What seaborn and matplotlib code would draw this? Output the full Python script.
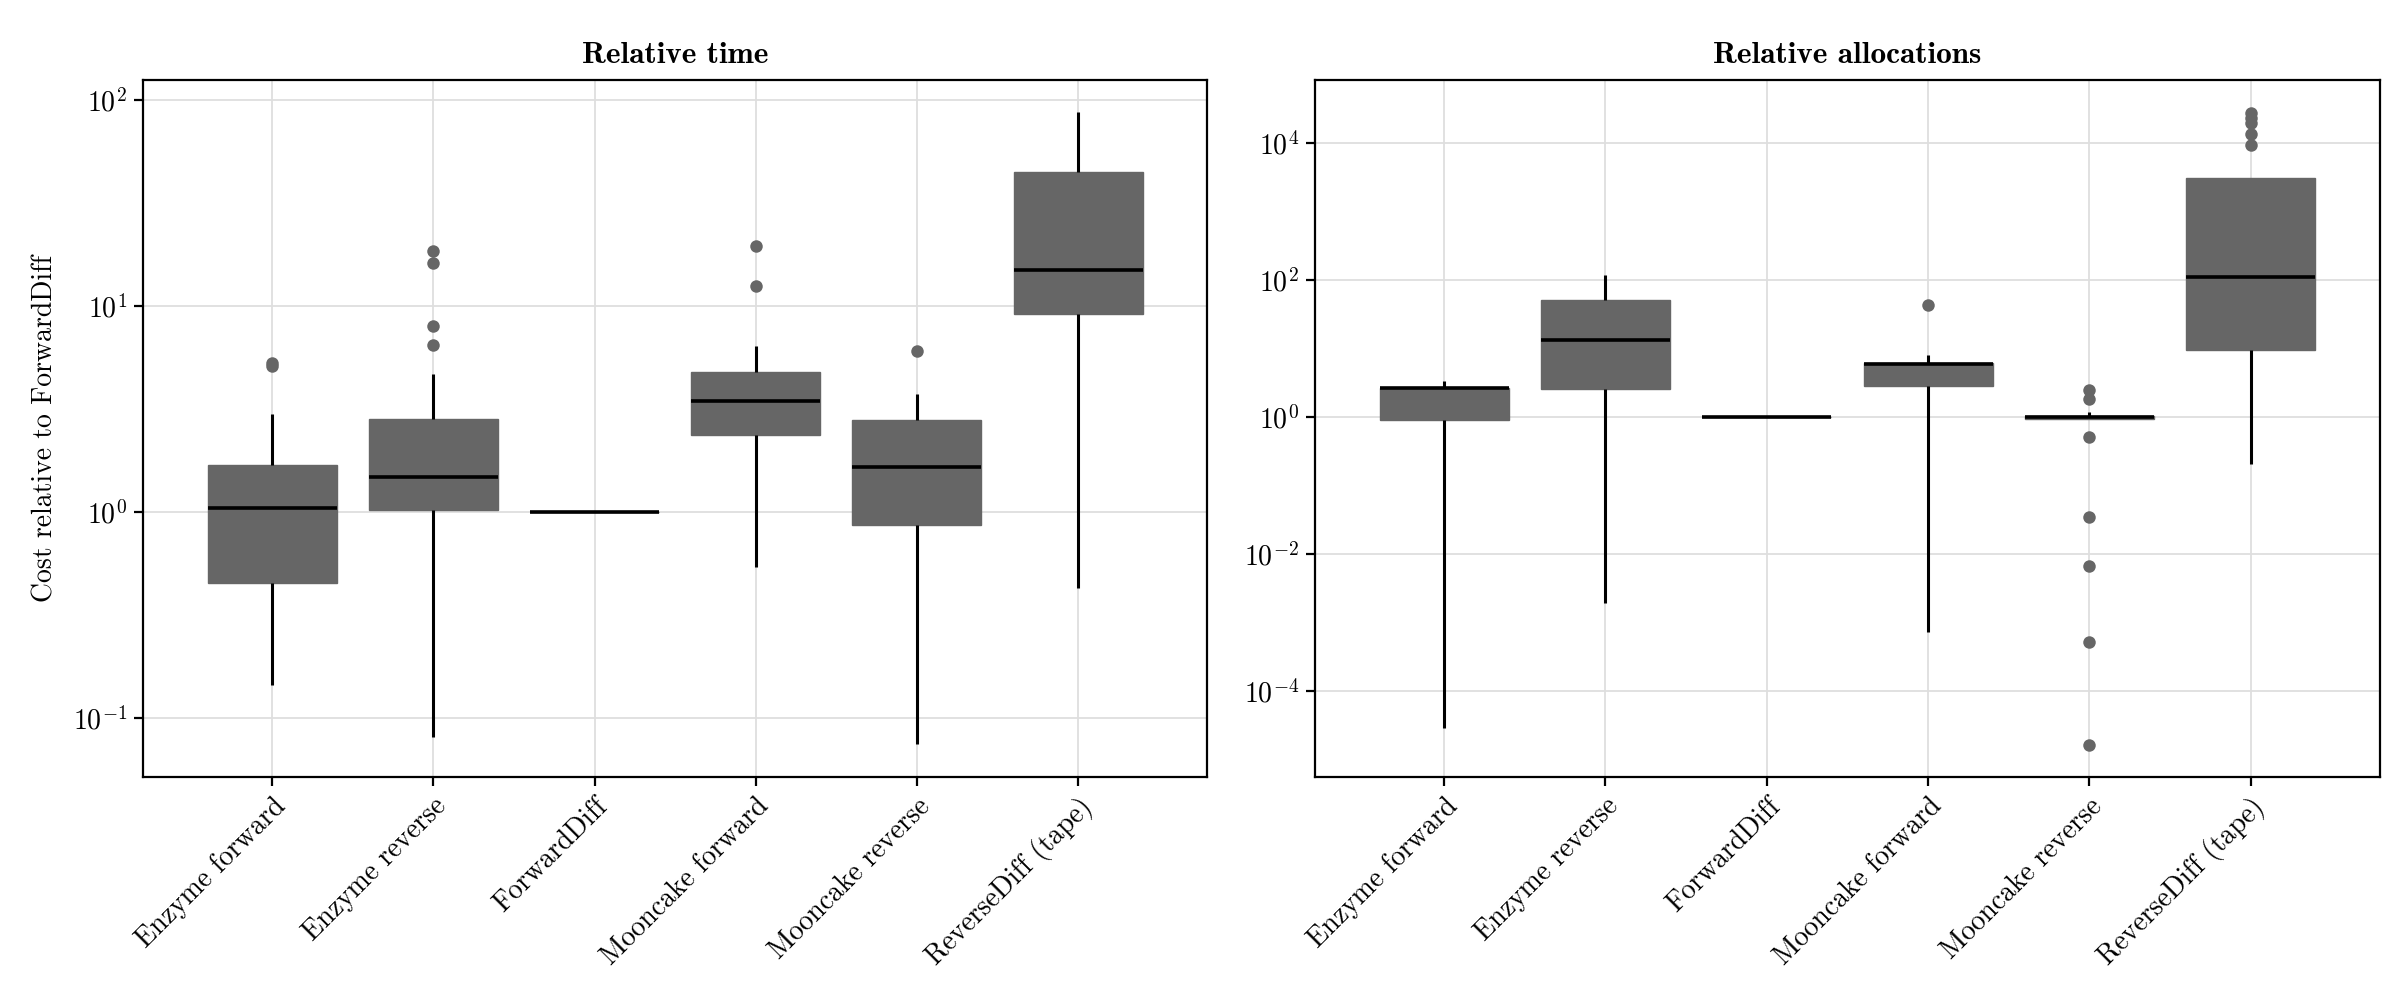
import numpy as np
import pandas as pd
import matplotlib
matplotlib.use("Agg")
import matplotlib.pyplot as plt
from matplotlib.ticker import FixedLocator, NullLocator, LogFormatterSciNotation
import seaborn as sns

categories = ["Enzyme forward", "Enzyme reverse", "ForwardDiff",
              "Mooncake forward", "Mooncake reverse", "ReverseDiff (tape)"]

# Relative time: box summary per method (whisker low, Q1, median, Q3, whisker high)
time_low = [0.146, 0.081, 1.0, 0.54, 0.075, 0.43]
time_q1 = [0.454, 1.03, 1.0, 2.36, 0.87, 9.18]
time_med = [1.05, 1.49, 1.0, 3.45, 1.65, 14.9]
time_q3 = [1.70, 2.85, 1.0, 4.78, 2.80, 44.6]
time_high = [3.0, 4.7, 1.0, 6.4, 3.76, 87.0]
time_out_method = ["Enzyme forward", "Enzyme forward",
                   "Enzyme reverse", "Enzyme reverse", "Enzyme reverse", "Enzyme reverse",
                   "Mooncake forward", "Mooncake forward",
                   "Mooncake reverse"]
time_out_value = [5.3, 5.1, 18.6, 16.2, 8.0, 6.5, 19.5, 12.5, 6.08]

# Relative allocations
alloc_low = [2.9e-5, 1.9e-3, 1.0, 7.1e-4, 0.92, 0.206]
alloc_q1 = [0.90, 2.54, 1.0, 2.84, 0.92, 9.5]
alloc_med = [2.6, 13.3, 1.0, 6.0, 1.0, 111.0]
alloc_q3 = [2.67, 51.0, 1.0, 6.1, 1.02, 3080.0]
alloc_high = [3.3, 117.0, 1.0, 8.0, 1.18, 3080.0]
alloc_out_method = ["Mooncake forward",
                    "Mooncake reverse", "Mooncake reverse", "Mooncake reverse",
                    "Mooncake reverse", "Mooncake reverse", "Mooncake reverse", "Mooncake reverse",
                    "ReverseDiff (tape)", "ReverseDiff (tape)", "ReverseDiff (tape)",
                    "ReverseDiff (tape)", "ReverseDiff (tape)"]
alloc_out_value = [43.0,
                   2.5, 1.83, 0.51, 0.035, 0.0066, 5.2e-4, 1.6e-5,
                   9.4e3, 1.35e4, 1.96e4, 2.3e4, 2.7e4]

time_ticks = [0.1, 1, 10, 100]
alloc_ticks = [1e-4, 1e-2, 1, 1e2, 1e4]

sns.set_theme(style="white")
plt.rcParams['font.family'] = ['cmr10', 'DejaVu Sans']
plt.rcParams['mathtext.fontset'] = 'cm'
plt.rcParams['axes.formatter.use_mathtext'] = True
plt.rcParams['axes.unicode_minus'] = True

BOX = "#666666"
FS = 20
FS_TITLE = 22.5


def five_frame(low, q1, med, q3, high):
    rows = []
    for c, a, b, m, d, e in zip(categories, low, q1, med, q3, high):
        for v in (a, b, m, d, e):
            rows.append((c, v))
    return pd.DataFrame(rows, columns=["method", "value"])


def panel(ax, box_df, out_df, title, ticks, ylim):
    sns.boxplot(data=box_df, x="method", y="value", order=categories, ax=ax,
                log_scale=True, whis=np.inf, width=0.8, showfliers=False,
                showcaps=False, color=BOX,
                boxprops=dict(facecolor=BOX, edgecolor=BOX, linewidth=1),
                whiskerprops=dict(color="black", linewidth=2.2),
                medianprops=dict(color="black", linewidth=2.6))
    sns.stripplot(data=out_df, x="method", y="value", order=categories, ax=ax,
                  jitter=False, color=BOX, size=9, linewidth=0, log_scale=True)
    ax.set_yscale("log")
    ax.yaxis.set_major_locator(FixedLocator(ticks))
    ax.yaxis.set_minor_locator(NullLocator())
    ax.yaxis.set_major_formatter(LogFormatterSciNotation())
    ax.set_ylim(*ylim)
    ax.set_xlim(-0.8, 5.8)
    ax.set_axisbelow(True)
    ax.grid(True, color="#dedede", linewidth=1.3)
    for s in ax.spines.values():
        s.set_color("black")
        s.set_linewidth(1.6)
        s.set_visible(True)
    ax.tick_params(axis="both", which="major", direction="out", length=6.5,
                   width=1.6, color="black", labelsize=FS, labelcolor="black",
                   bottom=True, left=True, pad=5)
    ax.set_xticks(range(len(categories)))
    ax.set_xticklabels(categories, rotation=45, ha="right", rotation_mode="anchor")
    ax.set_xlabel("")
    ax.set_ylabel("")
    ax.set_title(title, fontfamily="cmb10", fontsize=FS_TITLE, pad=12, color="black")


fig = plt.figure(figsize=(24, 10), dpi=100)
ax1 = fig.add_axes([0.0596, 0.223, 0.4434, 0.697])
ax2 = fig.add_axes([0.548, 0.223, 0.4435, 0.697])

panel(ax1, five_frame(time_low, time_q1, time_med, time_q3, time_high),
      pd.DataFrame({"method": time_out_method, "value": time_out_value}),
      "Relative time", time_ticks, (0.052, 125))
panel(ax2, five_frame(alloc_low, alloc_q1, alloc_med, alloc_q3, alloc_high),
      pd.DataFrame({"method": alloc_out_method, "value": alloc_out_value}),
      "Relative allocations", alloc_ticks, (5.5e-6, 8.3e4))
ax1.set_ylabel("Cost relative to ForwardDiff", fontsize=FS, color="black", labelpad=10)

fig.savefig("out.png", dpi=100)
